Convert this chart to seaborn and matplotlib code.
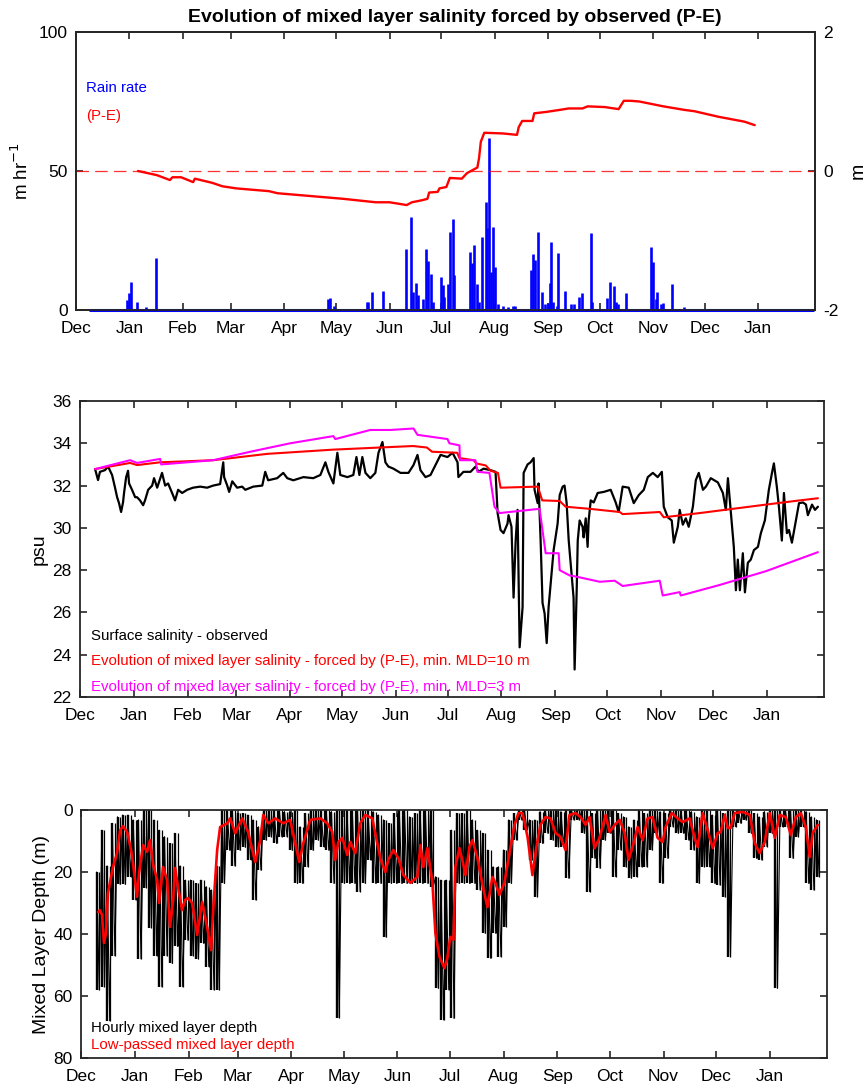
import numpy as np
import pandas as pd
import matplotlib
matplotlib.use("Agg")
import matplotlib.pyplot as plt
import matplotlib.dates as mdates
import seaborn as sns

# ---------------- data (days since 1 Dec 2006) ----------------
START = pd.Timestamp("2006-12-01")
XLIM_DAYS = [0, 429]
N_MONTH_TICKS = 14  # Dec ... Jan

# rain rate spikes (m hr^-1 as labelled)
RAIN_SPAN = [8, 428]
RAIN_DAY = [29.6, 30.7, 31.9, 35.4, 40.6, 46.4,
            146.1, 147.2, 149.6,
            168.7, 169.3, 171.6, 178.0,
            191.3, 194.2, 195.9, 197.1, 198.3, 201.2, 202.9, 204.1, 205.8, 207.0,
            211.6, 212.8, 213.9, 215.7, 217.4, 218.6, 219.7,
            229.0, 229.6, 231.3, 232.5, 234.2, 235.9, 238.3, 238.8, 240.0, 241.2, 242.3, 243.5, 245.0,
            248.1, 251.0, 253.9, 255.1,
            264.3, 265.5, 266.7, 268.4, 270.4, 272.5, 274.2, 275.4, 275.9, 277.1, 279.4, 280.0,
            284.1, 287.5, 289.3, 292.2, 293.9, 299.1, 299.7,
            308.4, 310.1, 312.5, 313.6, 314.8, 319.4,
            333.9, 335.1, 336.8, 337.4, 339.7, 340.9, 346.1, 353.0, 379.1]
RAIN_VAL = [3.6, 6.0, 10.1, 3.0, 1.0, 18.7,
            4.0, 4.3, 1.5,
            3.0, 3.0, 6.6, 7.0,
            22.0, 33.4, 6.6, 9.7, 5.4, 4.0, 22.0, 17.5, 13.0, 3.0,
            12.0, 9.0, 4.7, 9.4, 28.0, 32.7, 12.6,
            21.0, 17.0, 23.4, 9.4, 3.0, 26.3, 39.0, 29.5, 62.0, 13.7, 30.0, 15.5, 2.0,
            1.5, 1.2, 1.5, 1.5,
            14.4, 20.0, 18.0, 28.0, 6.5, 2.0, 2.5, 9.7, 24.4, 3.0, 1.5, 20.5,
            6.8, 2.0, 2.0, 4.8, 6.0, 27.6, 3.0,
            4.3, 10.0, 8.6, 3.0, 2.0, 6.2,
            22.7, 17.3, 4.0, 6.5, 2.0, 2.5, 9.4, 1.0, 0.5]

# cumulative (P-E), m
PE_DAY = [36, 47, 54.5, 56, 61, 68, 69, 79, 85, 93, 112, 117, 136, 155, 174,
          182, 192, 195, 201, 204, 205, 210, 211, 215, 217, 224, 227, 230, 233, 234,
          235, 237, 248, 256, 257, 259, 265, 266, 273, 281, 286, 294, 297, 307, 315,
          318, 322, 327, 341, 353, 359, 373, 388, 394]
PE_VAL = [0.0, -0.06, -0.13, -0.09, -0.09, -0.16, -0.11, -0.17, -0.22, -0.25,
          -0.29, -0.32, -0.36, -0.40, -0.45, -0.45, -0.49, -0.45, -0.42, -0.40,
          -0.31, -0.30, -0.25, -0.23, -0.10, -0.11, -0.03, 0.01, 0.05, 0.19,
          0.42, 0.55, 0.54, 0.52, 0.63, 0.72, 0.72, 0.83, 0.85, 0.88,
          0.90, 0.90, 0.93, 0.92, 0.89, 1.01, 1.01, 1.00, 0.93, 0.88,
          0.86, 0.78, 0.71, 0.66]

# observed surface salinity (psu)
SAL_DAY = [8.7, 10.4, 11.5, 14.4, 16.2, 18.5, 20.2, 21.4, 22.5, 23.7, 24.8, 25.4, 26.6, 27.7, 28.3,
           30.0, 31.8, 32.9, 34.6, 36.4, 37.5, 39.3, 41.6, 42.7, 44.5, 47.3, 49.1, 50.8, 53.1, 54.8,
           56.6, 58.9, 61.8, 65.2, 69.3, 73.3, 76.8, 80.8, 82.6, 83.1, 84.9, 86.0, 87.8, 90.6, 93.5,
           95.3, 99.9, 105.1, 106.8, 108.5, 113.7, 117.2, 119.5, 123.0, 128.8, 134.5, 138.6, 141.5, 143.2, 146.1,
           148.4, 150.1, 154.2, 157.6, 159.4, 161.1, 162.8, 164.6, 167.4, 170.3, 172.1, 174.4, 176.1, 177.8, 180.7,
           184.8, 189.4, 192.3, 194.6, 196.3, 199.2, 202.1, 207.9, 211.9, 214.8, 217.7, 218.2, 221.1, 225.2, 228.1,
           229.8, 232.7, 236.7, 239.6, 240.8, 242.5, 244.2, 246.5, 247.1, 248.8, 250.0, 251.2, 252.3, 253.5, 255.2,
           255.8, 258.1, 259.8, 261.6, 262.1, 263.9, 264.4, 265.6, 266.7, 267.9, 269.1, 270.2, 271.9, 273.1, 275.4,
           276.6, 278.3, 279.4, 280.6, 281.8, 282.9, 284.6, 285.2, 286.4, 287.0, 288.1, 289.8, 290.4, 291.6, 292.7,
           293.3, 294.5, 296.2, 298.5, 302.0, 306.0, 308.9, 310.6, 312.9, 316.4, 319.3, 322.2, 325.1, 327.4, 330.3,
           333.1, 335.5, 336.6, 338.9, 341.2, 342.4, 344.7, 345.8, 347.6, 349.3, 351.0, 353.4, 355.1, 356.8, 359.2,
           360.9, 363.7, 367.8, 370.7, 372.4, 373.6, 375.3, 377.0, 378.2, 379.3, 380.5, 382.2, 383.4, 385.1, 386.8,
           388.6, 390.9, 392.6, 394.9, 397.2, 399.0, 400.1, 401.8, 403.0, 404.7, 405.9, 407.6, 408.8, 410.5, 412.8,
           414.6, 416.9, 418.6, 419.7, 422.1, 423.8, 425.5]
SAL_OBS = [32.78, 32.26, 32.65, 32.73, 32.9, 32.5, 31.9, 31.45, 31.17, 30.75, 31.2, 31.65, 32.4, 32.7, 32.1,
           31.8, 31.45, 31.45, 31.3, 31.07, 31.3, 31.8, 32.0, 32.35, 31.9, 32.6, 32.0, 32.1, 31.65, 31.3,
           31.8, 31.65, 31.8, 31.9, 31.95, 31.9, 32.0, 32.07, 33.1, 32.4, 32.0, 31.7, 32.2, 31.9, 31.95,
           31.8, 31.95, 32.0, 32.65, 32.25, 32.35, 32.6, 32.35, 32.25, 32.4, 32.35, 32.5, 33.1, 32.65, 32.1,
           33.55, 32.5, 32.4, 32.5, 33.35, 32.5, 33.35, 32.6, 32.35, 32.6, 33.55, 34.06, 33.1, 32.9, 32.8,
           32.6, 32.6, 32.97, 33.45, 32.73, 32.4, 32.5, 33.45, 33.35, 33.55, 33.1, 32.4, 32.65, 32.65, 32.9,
           32.65, 32.8, 32.73, 32.65, 30.7, 29.9, 29.75, 30.2, 30.6, 30.05, 26.7, 29.4, 30.85, 24.35, 26.25,
           32.6, 33.0, 33.1, 33.3, 31.8, 31.17, 32.1, 29.4, 26.45, 25.95, 24.55, 26.25, 27.85, 28.95, 30.2,
           31.55, 31.95, 32.0, 31.17, 29.4, 28.35, 26.7, 23.3, 27.05, 29.4, 30.35, 30.05, 29.55, 30.45, 29.1,
           30.35, 31.3, 31.2, 31.65, 31.7, 31.8, 31.2, 30.75, 31.95, 31.9, 31.17, 31.55, 31.8, 32.4, 32.6,
           32.4, 32.65, 31.0, 30.5, 30.35, 29.3, 30.05, 30.85, 30.15, 30.45, 30.05, 31.0, 32.26, 32.6, 31.8,
           31.95, 32.35, 32.15, 31.65, 30.85, 32.35, 30.7, 29.1, 27.05, 28.5, 27.05, 28.8, 26.95, 28.35, 28.5,
           28.95, 29.1, 29.75, 30.35, 31.8, 32.6, 33.05, 31.95, 31.0, 29.4, 31.65, 29.75, 29.9, 29.3, 30.35,
           31.17, 31.2, 31.1, 30.6, 31.1, 30.85, 31.0]

# modelled mixed layer salinity, min. MLD = 10 m
MOD10_DAY = [8.7, 28.9, 32.9, 46.2, 76.8, 108, 146, 173, 192, 200, 203, 217.5, 218.8, 227, 228.5,
             234, 236.7, 241, 242.5, 264, 266.5, 276.6, 280, 293.9, 311.2, 312.9, 334.3, 336.6, 357.4,
             376.4, 395.5, 415.1, 425.5]
MOD10 = [32.78, 33.07, 32.97, 33.1, 33.2, 33.5, 33.7, 33.8, 33.87, 33.8, 33.6, 33.55, 33.3, 33.2, 33.05,
         32.95, 32.7, 32.6, 31.9, 31.95, 31.3, 31.27, 31.0, 30.9, 30.75, 30.65, 30.75, 30.5, 30.7,
         30.9, 31.1, 31.3, 31.4]

# modelled mixed layer salinity, min. MLD = 3 m
MOD3_DAY = [8.7, 28.9, 32.9, 46.2, 46.8, 76.8, 98.2, 121.2, 146.1, 147.2, 167.4, 179, 192.3, 194.6, 203.2,
            211.9, 213, 218.8, 219.1, 228, 229.2, 236.1, 239, 241.9, 265, 268.5, 276, 276.6, 282.3, 285.8,
            299.7, 308.3, 312.9, 334.3, 336, 345.8, 346.4, 368.9, 395.5, 425.5]
MOD3 = [32.78, 33.2, 33.07, 33.26, 33.0, 33.2, 33.6, 34.0, 34.34, 34.2, 34.63, 34.63, 34.7, 34.4, 34.3,
        34.2, 34.0, 33.9, 33.2, 33.2, 32.65, 32.6, 31.0, 30.7, 30.9, 28.8, 28.8, 28.0, 27.75, 27.7,
        27.45, 27.5, 27.25, 27.5, 26.8, 26.96, 26.8, 27.3, 27.95, 28.85]

# hourly mixed layer depth: shallowest / deepest value in each 3-day window (m)
MLD_DAY = np.arange(9, 424, 3)
MLD_UP = [20, 6.5, 18, 4.3, 2.2, 1.6, 1.6, 3.2, 3.2, 0,
          0, 3.2, 6.5, 8.6, 10.8, 7.5, 18, 22.6, 22.6, 23.7,
          22.6, 24.7, 25.8, 18, 0, 0, 0, 1.1, 1.1, 1.6,
          3.2, 5.4, 0, 0, 0, 0, 0.5, 0.5, 0, 5.4,
          1.1, 0, 0, 0, 0, 0.5, 0, 0, 0, 0,
          0, 0, 0, 0.5, 1.6, 3.2, 4.3, 1.1, 0, 0,
          2.2, 1.1, 0, 0, 0, 21.5, 22.6, 22.6, 6.5, 1.1,
          1.1, 0, 3.2, 6.5, 7.5, 12.9, 18.3, 18.3, 12.9, 3.2,
          1.1, 0, 0, 3.2, 3.2, 0.5, 0, 0, 0, 0.5,
          0, 0, 0, 0, 0, 1.1, 0, 0, 0, 0,
          1.1, 2.2, 5.4, 3.2, 0, 1.1, 0, 0, 0.5, 1.1,
          0, 0, 0, 0, 0.5, 2.2, 0, 0, 1.6, 0,
          1.1, 0, 0, 0, 0, 0, 1.1, 2.2, 0.5, 0,
          0, 0, 0, 0, 0, 0, 0.5, 2.2, 3.2]
MLD_LO = [58, 57, 68, 47, 24, 24, 21.5, 29, 48, 25,
          38, 47, 57, 47, 49.5, 44, 57, 42, 47, 48,
          43, 50.5, 58, 58, 23.7, 13, 18, 13, 12, 16,
          29, 19.4, 9.7, 8.6, 10.8, 8.6, 8.6, 13, 23.7, 23.7,
          18.3, 13, 9.7, 11.8, 13, 23.7, 67, 23.7, 23.7, 23.7,
          26.3, 23.7, 16.1, 23.7, 23.7, 41, 23.7, 23.7, 23.7, 23.7,
          23.7, 23.7, 23.7, 23.7, 24.7, 57.5, 67.7, 58, 67.2, 23.7,
          23.7, 23.7, 23.7, 25.8, 39.8, 47.8, 39.8, 47.3, 37.6, 23.7,
          9.7, 3.2, 6.5, 16.1, 28, 10.8, 7.5, 9.7, 11.8, 11.8,
          22, 3.2, 3.2, 7.5, 26.3, 15.6, 18.8, 9.7, 7.5, 21.5,
          12.9, 18.3, 22, 21.5, 18.3, 18.3, 12.9, 7.5, 23.7, 15.6,
          5.4, 7.5, 7.5, 9.7, 12.9, 23.7, 18.3, 18.3, 23.7, 24.2,
          28, 47.3, 5.4, 4.3, 3.2, 7.5, 15.6, 16.1, 11.8, 7.5,
          57.5, 5.4, 5.4, 15.6, 8.6, 5.4, 23.7, 25.8, 21.5]

# low-passed mixed layer depth (m)
MLP_DAY = [9.8, 10.9, 12.1, 13.2, 14.4, 15.5, 17.3, 18.4, 20.7, 22.5, 24.2, 26.5, 28.8, 29.9, 32.2,
           33.4, 35.7, 38.0, 39.7, 41.5, 43.8, 44.9, 47.2, 49.5, 51.2, 53.0, 54.1, 55.8, 58.1, 59.9,
           61.6, 63.9, 66.8, 69.7, 72.5, 74.8, 76.0, 78.3, 80.0, 84.1, 85.8, 88.7, 92.7, 96.1, 100.2,
           103.1, 104.8, 107.7, 111.7, 116.3, 120.3, 123.2, 125.5, 127.8, 131.8, 137.6, 141.6, 144.5, 146.2, 148.0,
           150.3, 153.1, 154.9, 157.7, 160.6, 163.5, 167.5, 170.4, 172.1, 175.0, 176.7, 179.6, 182.5, 185.4, 189.4,
           193.4, 195.2, 196.9, 199.2, 202.1, 203.8, 206.1, 209.0, 210.7, 212.4, 214.2, 215.3, 217.6, 219.3, 221.1,
           223.4, 225.1, 228.0, 230.9, 233.7, 236.6, 238.3, 240.6, 243.5, 246.4, 249.3, 251.6, 253.9, 256.8, 259.6,
           261.9, 264.2, 267.1, 270.0, 272.9, 275.8, 278.6, 280.9, 284.4, 287.3, 290.2, 292.5, 295.3, 298.2, 301.7,
           304.0, 306.9, 309.8, 312.6, 314.9, 317.2, 320.1, 323.0, 325.8, 328.7, 331.6, 334.5, 336.2, 339.7, 343.1,
           346.0, 350.0, 352.9, 354.6, 357.5, 360.4, 363.3, 366.2, 367.9, 370.2, 371.9, 373.6, 375.9, 380.5, 384.6,
           387.5, 390.3, 393.2, 396.1, 399.0, 401.8, 405.3, 408.2, 411.0, 413.9, 416.8, 419.1, 420.8, 423.7]
MLP_VAL = [32.9, 32.3, 33.9, 42.9, 39.7, 26.8, 21.6, 18.4, 13.9, 6.5, 5.2, 7.1, 12.9, 17.1, 28.0,
           20.3, 11.3, 13.5, 9.7, 17.7, 22.6, 30.0, 18.4, 22.6, 37.7, 29.0, 18.7, 24.8, 32.3, 29.0,
           28.4, 30.0, 40.3, 29.7, 37.7, 45.2, 32.3, 12.9, 5.5, 4.3, 2.7, 7.5, 2.7, 7.1, 16.8,
           9.7, 1.6, 4.3, 2.7, 4.3, 3.2, 10.8, 16.8, 10.8, 3.2, 2.7, 4.3, 7.1, 16.1, 10.3,
           9.0, 14.5, 10.3, 13.9, 4.3, 1.6, 2.7, 10.8, 15.5, 20.0, 16.1, 12.9, 15.5, 21.0, 23.5,
           21.6, 11.3, 18.4, 12.3, 23.5, 39.7, 47.3, 51.0, 47.7, 40.9, 41.9, 18.4, 12.3, 16.1, 21.0,
           11.9, 9.7, 15.5, 24.2, 31.3, 21.6, 23.5, 27.4, 23.5, 13.9, 4.8, 1.0, 1.0, 8.7, 21.0,
           11.9, 4.8, 2.3, 2.7, 7.4, 8.7, 12.9, 1.6, 1.0, 2.3, 4.8, 2.3, 12.3, 9.0, 1.6,
           7.1, 4.8, 3.2, 7.4, 16.1, 11.9, 5.5, 9.7, 2.7, 2.3, 9.0, 10.3, 5.5, 1.0, 2.7,
           3.9, 2.7, 9.0, 11.9, 1.0, 6.5, 12.3, 7.4, 7.1, 1.6, 5.8, 5.8, 1.0, 0.6, 1.6,
           10.8, 13.9, 10.3, 1.0, 9.0, 1.6, 2.3, 8.1, 2.3, 1.0, 5.5, 15.2, 7.4, 4.8]

# ---------------- helpers ----------------
def to_dates(days):
    return START + pd.to_timedelta(np.asarray(days, dtype=float), unit="D")

BLUE, RED, MAG, INK = "#0000ff", "#ff0000", "#ff00ff", "#000000"
AXC = "#262626"

sns.set_theme(style="ticks")
plt.rcParams["font.family"] = ["Liberation Sans", "DejaVu Sans"]
plt.rcParams.update({
    "text.color": "black", "axes.labelcolor": "black",
    "axes.unicode_minus": False,
    "axes.edgecolor": AXC, "axes.linewidth": 1.3,
    "xtick.color": AXC, "ytick.color": AXC,
    "xtick.labelcolor": "black", "ytick.labelcolor": "black",
    "xtick.direction": "in", "ytick.direction": "in",
    "xtick.major.size": 5, "ytick.major.size": 5,
    "xtick.major.width": 1.2, "ytick.major.width": 1.2,
    "xtick.labelsize": 12.5, "ytick.labelsize": 12.5,
    "xtick.major.pad": 8, "ytick.major.pad": 6,
})

W, H = 865, 1088
fig = plt.figure(figsize=(W / 100, H / 100), dpi=100)
ax1 = fig.add_axes([76 / W, 1 - 310 / H, 739 / W, 278 / H])
ax2 = fig.add_axes([80 / W, 1 - 697 / H, 744 / W, 296 / H])
ax3 = fig.add_axes([81 / W, 1 - 1058 / H, 746 / W, 248 / H])

xlim = to_dates(XLIM_DAYS)
month_ticks = pd.date_range(START, periods=N_MONTH_TICKS, freq="MS")

def style_dates(ax):
    ax.set_xlim(xlim[0], xlim[1])
    ax.set_xticks(month_ticks)
    ax.xaxis.set_major_formatter(mdates.DateFormatter("%b"))
    ax.set_xlabel("")

# ---------------- panel 1: rain + (P-E) ----------------
ax1.vlines(to_dates(RAIN_DAY), 0, RAIN_VAL, color=BLUE, lw=1.9, zorder=3)
base = pd.DataFrame({"t": to_dates(RAIN_SPAN), "v": [0.0, 0.0]})
sns.lineplot(data=base, x="t", y="v", ax=ax1, color=BLUE, lw=2.2, clip_on=False, zorder=4)
ax1.set_ylim(0, 100)
ax1.set_yticks([0, 50, 100])
style_dates(ax1)
ax1.tick_params(top=True, right=False)

ax1r = ax1.twinx()
pe = pd.DataFrame({"t": to_dates(PE_DAY), "v": PE_VAL})
ax1r.axhline(0, color=RED, lw=0.9, ls=(0, (10, 5)), alpha=0.8)
sns.lineplot(data=pe, x="t", y="v", ax=ax1r, color=RED, lw=1.7, estimator=None, sort=False)
ax1r.set_ylim(-2, 2)
ax1r.set_yticks([-2, 0, 2])
ax1r.set_ylabel("")
style_dates(ax1r)
ax1r.text(1.058, 0.5, "m", transform=ax1r.transAxes, rotation=90, fontsize=14,
          ha="center", va="center")
ax1.set_ylabel("m hr$^{-1}$", fontsize=13.5)
ax1.yaxis.set_label_coords(-0.059, 0.5)
ax1.text(0.0135, 0.799, "Rain rate", color=BLUE, transform=ax1.transAxes, fontsize=10.8, va="center")
ax1.text(0.0135, 0.698, "(P-E)", color=RED, transform=ax1.transAxes, fontsize=10.8, va="center")

fig.text(455 / W, 1 - 17 / H, "Evolution of mixed layer salinity forced by observed (P-E)",
         ha="center", va="center", fontsize=14, fontweight="bold", color="black")

# ---------------- panel 2: salinity ----------------
obs = pd.DataFrame({"t": to_dates(SAL_DAY), "v": SAL_OBS})
m10 = pd.DataFrame({"t": to_dates(MOD10_DAY), "v": MOD10})
m3 = pd.DataFrame({"t": to_dates(MOD3_DAY), "v": MOD3})
sns.lineplot(data=obs, x="t", y="v", ax=ax2, color=INK, lw=1.6, estimator=None, sort=False)
sns.lineplot(data=m10, x="t", y="v", ax=ax2, color=RED, lw=1.5, estimator=None, sort=False)
sns.lineplot(data=m3, x="t", y="v", ax=ax2, color=MAG, lw=1.5, estimator=None, sort=False)
ax2.set_ylim(22, 36)
ax2.set_yticks(np.arange(22, 37, 2))
style_dates(ax2)
ax2.tick_params(top=True, right=True)
ax2.set_ylabel("psu", fontsize=14)
ax2.yaxis.set_label_coords(-0.044, 0.5)
ax2.text(0.0148, 0.206, "Surface salinity - observed", color=INK, transform=ax2.transAxes,
         fontsize=10.8, va="center")
ax2.text(0.0148, 0.122, "Evolution of mixed layer salinity - forced by (P-E), min. MLD=10 m",
         color=RED, transform=ax2.transAxes, fontsize=10.8, va="center")
ax2.text(0.0148, 0.034, "Evolution of mixed layer salinity - forced by (P-E), min. MLD=3 m",
         color=MAG, transform=ax2.transAxes, fontsize=10.8, va="center")

# ---------------- panel 3: mixed layer depth ----------------
t_zig = np.empty(2 * len(MLD_DAY))
v_zig = np.empty(2 * len(MLD_DAY))
t_zig[0::2] = MLD_DAY
t_zig[1::2] = MLD_DAY + 1.5
v_zig[0::2] = MLD_UP
v_zig[1::2] = MLD_LO
hourly = pd.DataFrame({"t": to_dates(t_zig), "v": v_zig})
lowp = pd.DataFrame({"t": to_dates(MLP_DAY), "v": MLP_VAL})
ax3.vlines(to_dates(MLD_DAY), MLD_UP, MLD_LO, color=INK, lw=1.7)
ax3.vlines(to_dates(MLD_DAY + 1.5), MLD_UP, MLD_LO, color=INK, lw=0.9)
sns.lineplot(data=hourly, x="t", y="v", ax=ax3, color=INK, lw=0.8, estimator=None, sort=False)
sns.lineplot(data=lowp, x="t", y="v", ax=ax3, color=RED, lw=1.9, estimator=None, sort=False)
ax3.set_ylim(80, 0)
ax3.set_yticks([0, 20, 40, 60, 80])
style_dates(ax3)
ax3.tick_params(top=True, right=True)
ax3.set_ylabel("Mixed Layer Depth (m)", fontsize=14)
ax3.yaxis.set_label_coords(-0.0415, 0.5)
ax3.text(0.0134, 0.121, "Hourly mixed layer depth", color=INK, transform=ax3.transAxes,
         fontsize=10.8, va="center")
ax3.text(0.0134, 0.052, "Low-passed mixed layer depth", color=RED, transform=ax3.transAxes,
         fontsize=10.8, va="center")

fig.savefig("out.png", dpi=100, facecolor="white")
